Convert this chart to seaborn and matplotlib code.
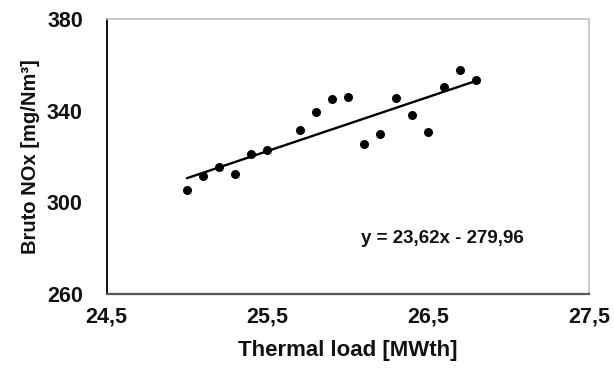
import numpy as np
import matplotlib
matplotlib.use("Agg")
import matplotlib.pyplot as plt
import seaborn as sns
import pandas as pd

# Measured thermal load and raw NOx concentration
thermal_load = [25.0, 25.1, 25.2, 25.3, 25.4, 25.5, 25.7, 25.8, 25.9,
                26.0, 26.1, 26.2, 26.3, 26.4, 26.5, 26.6, 26.7, 26.8]
nox = [305.2, 311.5, 315.6, 312.4, 321.1, 323.0, 331.7, 339.4, 345.2,
       345.8, 325.6, 329.8, 345.4, 338.3, 330.5, 350.5, 357.9, 353.2]

# Linear trend line coefficients
slope = 23.62
intercept = -279.96

x_ticks = [24.5, 25.5, 26.5, 27.5]
x_tick_labels = ["24,5", "25,5", "26,5", "27,5"]
y_ticks = [260, 300, 340, 380]

sns.set_theme(style="white")
plt.rcParams["font.family"] = ["Liberation Sans", "DejaVu Sans"]

df = pd.DataFrame({"load": thermal_load, "nox": nox})

fig = plt.figure(figsize=(6.14, 3.73), dpi=100)
ax = fig.add_axes([0.1735, 0.2118, 0.9593 - 0.1735, 0.949 - 0.2118])

sns.scatterplot(data=df, x="load", y="nox", ax=ax, color="black",
                s=42, edgecolor="black", linewidth=0, zorder=3)

xl = np.array([min(thermal_load), max(thermal_load)])
sns.lineplot(x=xl, y=slope * xl + intercept, ax=ax, color="black",
             linewidth=1.7, zorder=2)

ax.set_xlim(24.5, 27.5)
ax.set_ylim(260, 380)
ax.set_xticks(x_ticks)
ax.set_xticklabels(x_tick_labels)
ax.set_yticks(y_ticks)
ax.set_yticklabels([str(v) for v in y_ticks])

for lab in ax.get_xticklabels() + ax.get_yticklabels():
    lab.set_fontweight("bold")
    lab.set_fontsize(15.5)
    lab.set_color("#111111")

ax.tick_params(axis="y", which="major", length=6, width=1,
               color="#aaaaaa", direction="out", pad=11)
ax.tick_params(axis="x", which="major", length=4, width=1,
               color="#cccccc", direction="out", pad=5)

ax.set_xlabel("Thermal load [MWth]", fontsize=16, fontweight="bold",
              color="#111111")
ax.set_ylabel("Bruto NOx [mg/Nm³]", fontsize=14.5, fontweight="bold",
              color="#111111")
ax.xaxis.label.set_va("center")
ax.yaxis.label.set_va("center")
ax.xaxis.set_label_coords(0.5, -0.205)
ax.yaxis.set_label_coords(-0.158, 0.5)

for side in ["top", "right"]:
    ax.spines[side].set_color("#c0c0c0")
    ax.spines[side].set_linewidth(1.2)
ax.spines["left"].set_color("#111111")
ax.spines["left"].set_linewidth(1.4)
ax.spines["bottom"].set_color("#555555")
ax.spines["bottom"].set_linewidth(1.6)

ax.text(26.59, 284.4, "y = 23,62x - 279,96", fontsize=13.5,
        fontweight="bold", ha="center", va="center", color="#111111")

fig.savefig("out.png", dpi=100)
